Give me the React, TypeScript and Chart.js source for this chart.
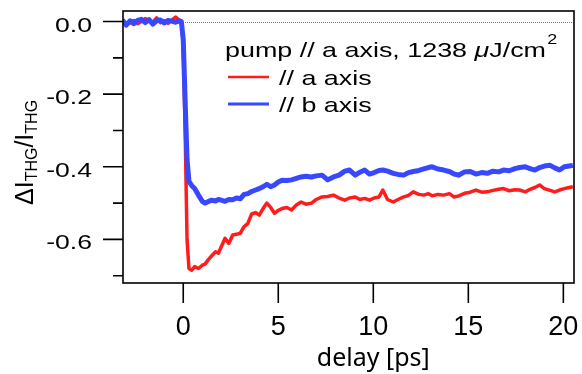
import { useEffect, useRef } from "react";
import { Chart, registerables } from "chart.js";

Chart.register(...registerables);

// delay [ps]
const T = [
  -3.2, -3.0, -2.8, -2.6, -2.4, -2.2, -2.0, -1.8, -1.6, -1.4,
  -1.2, -1.0, -0.8, -0.6, -0.4, -0.2, -0.1, 0.0, 0.1, 0.2,
  0.3, 0.45, 0.6, 0.8, 1.0, 1.15, 1.3, 1.5, 1.7, 1.85,
  2.0, 2.2, 2.4, 2.6, 2.8, 3.0, 3.2, 3.4, 3.6, 3.8,
  4.0, 4.2, 4.4, 4.6, 4.8, 5.0, 5.2, 5.45, 5.7, 5.95,
  6.2, 6.45, 6.75, 7.0, 7.3, 7.6, 7.9, 8.2, 8.5, 8.75,
  9.05, 9.3, 9.55, 9.8, 10.05, 10.3, 10.5, 10.75, 11.05, 11.3,
  11.6, 11.85, 12.1, 12.4, 12.65, 12.9, 13.1, 13.4, 13.7, 14.0,
  14.25, 14.5, 14.8, 15.1, 15.4, 15.7, 16.0, 16.3, 16.6, 16.85,
  17.15, 17.45, 17.7, 18.0, 18.25, 18.5, 18.75, 19.0, 19.3, 19.55,
  19.8, 20.05, 20.3, 20.5,
];

// probe // a axis
const RED = [
  0.002, -0.008, -0.004, 0.003, -0.006, 0.0, 0.008, 0.004, -0.002, 0.01,
  -0.003, 0.002, -0.005, 0.004, 0.012, 0.003, 0.0, -0.06, -0.3, -0.6,
  -0.68, -0.685, -0.675, -0.68, -0.671, -0.668, -0.657, -0.645, -0.634, -0.638,
  -0.62, -0.597, -0.611, -0.588, -0.586, -0.583, -0.565, -0.556, -0.53, -0.526,
  -0.533, -0.515, -0.5, -0.512, -0.528, -0.52, -0.515, -0.512, -0.519, -0.505,
  -0.497, -0.503, -0.5, -0.49, -0.483, -0.482, -0.478, -0.486, -0.492, -0.486,
  -0.483, -0.49, -0.487, -0.492, -0.486, -0.483, -0.464, -0.49, -0.497, -0.49,
  -0.483, -0.479, -0.469, -0.476, -0.478, -0.474, -0.48, -0.476, -0.478, -0.474,
  -0.483, -0.48, -0.473, -0.47, -0.464, -0.47, -0.469, -0.465, -0.462, -0.46,
  -0.466, -0.463, -0.464, -0.469, -0.462, -0.457, -0.45, -0.46, -0.465, -0.469,
  -0.464, -0.46, -0.457, -0.455,
];

// probe // b axis
const BLUE = [
  0.004, -0.01, 0.002, -0.006, 0.003, 0.006, -0.003, 0.005, -0.007, 0.002,
  0.004, -0.004, 0.003, 0.001, -0.002, 0.002, 0.0, -0.05, -0.22, -0.38,
  -0.44, -0.452, -0.46, -0.478, -0.495, -0.5, -0.496, -0.492, -0.494, -0.49,
  -0.492, -0.495, -0.49, -0.491, -0.486, -0.488, -0.476, -0.474, -0.468, -0.464,
  -0.46, -0.455, -0.448, -0.455, -0.45, -0.442, -0.437, -0.438, -0.436, -0.432,
  -0.428, -0.426, -0.428, -0.425, -0.423, -0.436, -0.428, -0.423, -0.412, -0.409,
  -0.423, -0.415, -0.409, -0.42, -0.416, -0.41, -0.409, -0.412, -0.418, -0.421,
  -0.423, -0.416, -0.413, -0.41, -0.406, -0.402, -0.4, -0.406, -0.409, -0.413,
  -0.42, -0.423, -0.414, -0.413, -0.42, -0.416, -0.418, -0.412, -0.414, -0.409,
  -0.411, -0.405, -0.402, -0.4, -0.405, -0.409, -0.402, -0.398, -0.396, -0.403,
  -0.409, -0.4, -0.398, -0.396,
];

const X_TICKS = [0, 5, 10, 15, 20];
const Y_MAJOR = [0, -0.2, -0.4, -0.6];
const Y_MINOR = [-0.1, -0.3, -0.5, -0.7];
const X_MIN = -3.17;
const X_MAX = 20.56;
const Y_MIN = -0.72;
const Y_MAX = 0.029;

const SERIES_NAMES = ["// a axis", "// b axis"];
const LEGEND_TITLE = ["pump // a axis, 1238 ", "\u03bc", "J/cm", "2"];
const X_TITLE = "delay [ps]";

const RED_COLOR = "rgb(255,28,28)";
const BLUE_COLOR = "rgb(55,72,255)";

const pts = (ys: number[]) =>
  ys.slice(0, Math.min(ys.length, T.length)).map((v, i) => ({ x: T[i], y: v }));

const decor = {
  id: "decor",
  beforeDatasetsDraw(chart: any) {
    const { ctx, chartArea: a, scales } = chart;
    const y0 = Math.round(scales.y.getPixelForValue(0)) + 0.5;
    ctx.save();
    ctx.strokeStyle = "#777";
    ctx.lineWidth = 1;
    ctx.setLineDash([1, 1]);
    ctx.beginPath();
    ctx.moveTo(a.left, y0);
    ctx.lineTo(a.right, y0);
    ctx.stroke();
    ctx.restore();
  },
  afterDatasetsDraw(chart: any) {
    const { ctx, chartArea: a, scales } = chart;
    const xs = scales.x;
    const ys = scales.y;
    ctx.save();
    ctx.setLineDash([]);
    ctx.strokeStyle = "#000";
    ctx.fillStyle = "#000";
    ctx.lineWidth = 1.6;
    // frame
    ctx.strokeRect(a.left, a.top, a.right - a.left, a.bottom - a.top);
    // y ticks
    ctx.beginPath();
    for (const v of Y_MAJOR) {
      const p = ys.getPixelForValue(v);
      ctx.moveTo(a.left - 20, p);
      ctx.lineTo(a.left, p);
    }
    for (const v of Y_MINOR) {
      const p = ys.getPixelForValue(v);
      ctx.moveTo(a.left - 10, p);
      ctx.lineTo(a.left, p);
    }
    // x ticks
    for (const v of X_TICKS) {
      const p = xs.getPixelForValue(v);
      ctx.moveTo(p, a.bottom);
      ctx.lineTo(p, a.bottom + 20);
    }
    ctx.stroke();

    // y tick labels (wide)
    ctx.font = "20px 'Liberation Sans', Arial, sans-serif";
    ctx.textAlign = "right";
    ctx.textBaseline = "alphabetic";
    for (const v of Y_MAJOR) {
      const p = ys.getPixelForValue(v);
      ctx.save();
      ctx.translate(a.left - 31, p + 10);
      ctx.scale(1.33, 1);
      ctx.fillText(v === 0 ? "0.0" : v.toFixed(1), 0, 0);
      ctx.restore();
    }
    // x tick labels
    ctx.font = "27px 'Liberation Sans', Arial, sans-serif";
    ctx.textAlign = "center";
    for (const v of X_TICKS) {
      const p = xs.getPixelForValue(v);
      ctx.fillText(String(v), p, a.bottom + 52);
    }
    // x title
    ctx.font = "25px 'Noto Sans', sans-serif";
    ctx.textAlign = "center";
    ctx.fillText(X_TITLE, xs.getPixelForValue(10), a.bottom + 83);

    // y title with subscripts
    ctx.save();
    ctx.translate(33, 205);
    ctx.rotate(-Math.PI / 2);
    ctx.textAlign = "left";
    const big = "25px 'Liberation Sans', Arial, sans-serif";
    const sub = "16px 'Liberation Sans', Arial, sans-serif";
    let cx = 0;
    const parts: [string, string, number][] = [
      ["\u0394I", big, 0],
      ["THG", sub, 4],
      ["/I", big, 0],
      ["THG", sub, 4],
    ];
    for (const [s, f, dy] of parts) {
      ctx.font = f;
      ctx.fillText(s, cx, dy);
      cx += ctx.measureText(s).width;
    }
    ctx.restore();

    // legend
    ctx.textAlign = "left";
    const lx = a.left + 102;
    const hs = 1.28;
    ctx.save();
    ctx.translate(lx, a.top + 46);
    ctx.scale(hs, 1);
    let tx = 0;
    const norm = "21px 'Liberation Sans', Arial, sans-serif";
    const ital = "italic 21px 'Liberation Sans', Arial, sans-serif";
    ctx.font = norm;
    ctx.fillText(LEGEND_TITLE[0], tx, 0);
    tx += ctx.measureText(LEGEND_TITLE[0]).width;
    ctx.font = ital;
    ctx.fillText(LEGEND_TITLE[1], tx, 0);
    tx += ctx.measureText(LEGEND_TITLE[1]).width;
    ctx.font = norm;
    ctx.fillText(LEGEND_TITLE[2], tx, 0);
    tx += ctx.measureText(LEGEND_TITLE[2]).width;
    ctx.font = "14px 'Liberation Sans', Arial, sans-serif";
    ctx.fillText(LEGEND_TITLE[3], tx + 1, -13);
    ctx.restore();

    const items = [
      { name: SERIES_NAMES[0], color: RED_COLOR, w: 2.5, ly: a.top + 66, by: a.top + 74 },
      { name: SERIES_NAMES[1], color: BLUE_COLOR, w: 3.2, ly: a.top + 93, by: a.top + 101 },
    ];
    for (const it of items) {
      ctx.strokeStyle = it.color;
      ctx.lineWidth = it.w;
      ctx.beginPath();
      ctx.moveTo(a.left + 105, it.ly);
      ctx.lineTo(a.left + 146, it.ly);
      ctx.stroke();
      ctx.save();
      ctx.translate(a.left + 156, it.by);
      ctx.scale(hs, 1);
      ctx.font = norm;
      ctx.textAlign = "left";
      ctx.fillStyle = "#000";
      ctx.fillText(it.name, 0, 0);
      ctx.restore();
    }
    ctx.restore();
  },
};

export default function App() {
  const ref = useRef<HTMLCanvasElement | null>(null);
  useEffect(() => {
    if (!ref.current) return;
    const chart = new Chart(ref.current, {
      type: "line",
      data: {
        datasets: [
          {
            label: SERIES_NAMES[0],
            data: pts(RED),
            borderColor: RED_COLOR,
            borderWidth: 3.5,
            pointRadius: 0,
            tension: 0,
            order: 1,
            borderJoinStyle: "round",
          },
          {
            label: SERIES_NAMES[1],
            data: pts(BLUE),
            borderColor: BLUE_COLOR,
            borderWidth: 5,
            pointRadius: 0,
            tension: 0,
            order: 0,
            borderJoinStyle: "round",
          },
        ],
      },
      options: {
        responsive: false,
        animation: false,
        devicePixelRatio: 1,
        layout: { padding: { left: 123, top: 11, right: 8, bottom: 91 } },
        plugins: { legend: { display: false }, tooltip: { enabled: false } },
        scales: {
          x: { type: "linear", min: X_MIN, max: X_MAX, display: false },
          y: { type: "linear", min: Y_MIN, max: Y_MAX, display: false },
        },
      },
      plugins: [decor],
    } as any);
    return () => chart.destroy();
  }, []);
  return (
    <div style={{ position: "absolute", left: 0, top: 0, width: 582, height: 374, background: "#fff" }}>
      <canvas ref={ref} width={582} height={374} />
    </div>
  );
}
